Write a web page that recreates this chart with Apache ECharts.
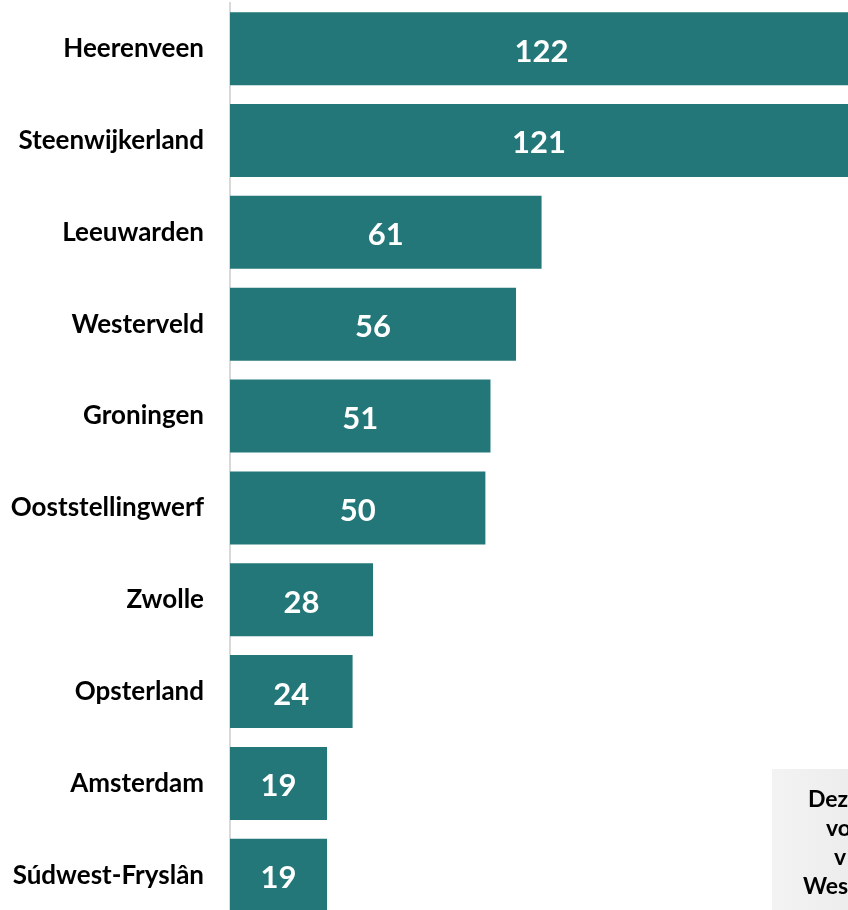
<!DOCTYPE html>
<html>
<head>
<meta charset="utf-8">
<script src="https://cdn.jsdelivr.net/npm/echarts@6/dist/echarts.min.js"></script>
<style>html,body{margin:0;padding:0;background:#fff;overflow:hidden;}#c{width:848px;height:910px;}</style>
</head>
<body>
<div id="c"></div>
<script>
const categories = ["Heerenveen","Steenwijkerland","Leeuwarden","Westerveld","Groningen","Ooststellingwerf","Zwolle","Opsterland","Amsterdam","Súdwest-Fryslân"];
const values = [122,121,61,56,51,50,28,24,19,19];
const noteLines = ["Dez","vo","v","Wes"];

const chart = echarts.init(document.getElementById('c'), null, {renderer:'canvas'});
const font = 'Lato, "Noto Sans", sans-serif';
chart.setOption({
  animation:false,
  backgroundColor:'#ffffff',
  grid:{left:230, top:2.7, right:-46, bottom:-11.2, containLabel:false, outerBoundsMode:'none'},
  xAxis:{type:'value', min:0, max:130, show:false},
  yAxis:{
    type:'category', inverse:true, data:categories,
    axisLine:{show:true, lineStyle:{color:'#d9d9d9', width:2}},
    axisTick:{show:false},
    axisLabel:{color:'#000', fontSize:26, fontWeight:'bold', fontFamily:font, margin:26},
    splitLine:{show:false}
  },
  series:[{
    type:'bar', data:values, barWidth:73,
    itemStyle:{color:'#237779'},
    label:{show:true, position:'inside', color:'#fff', fontSize:31, fontWeight:'bold', fontFamily:font, offset:[0,3]}
  }],
  graphic:[
    {type:'rect', left:772, top:769, shape:{width:120, height:160},
     style:{fill:new echarts.graphic.LinearGradient(0,0,1,0,[{offset:0,color:'#f3f3f3'},{offset:1,color:'#e9e9e9'}])}, z:10},
    ...noteLines.map((t,i)=>({type:'text', x:[808,826,834,803][i], y:800+29*i, z:11,
      style:{text:t, fill:'#000', font:'bold 23px '+font, textVerticalAlign:'middle', textAlign:'left'}}))
  ]
});
</script>
</body>
</html>
